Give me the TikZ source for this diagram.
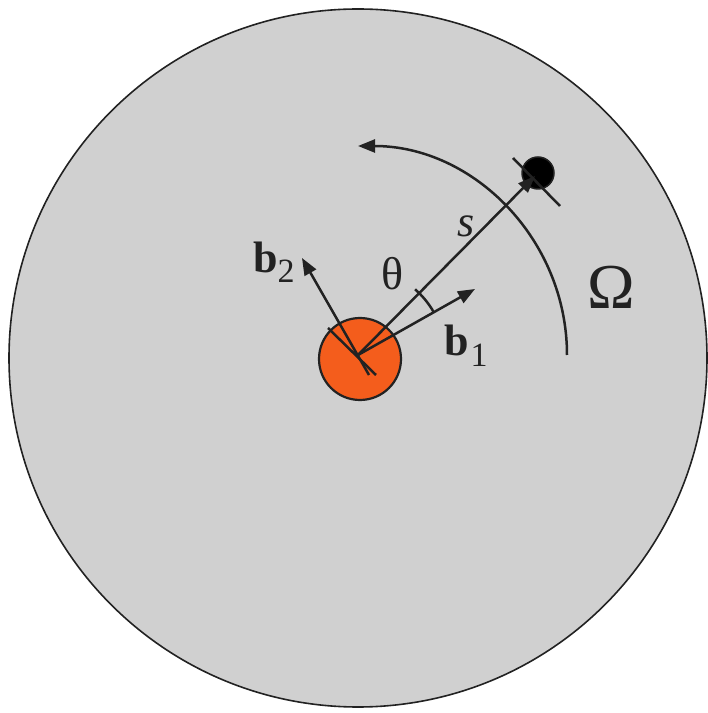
\documentclass[tikz,border=0pt]{standalone}
\usepackage{fontspec}
\setmainfont{Liberation Serif}
\usetikzlibrary{arrows.meta}
\definecolor{disk}{HTML}{D0D0D0}
\definecolor{src}{HTML}{F45D1C}
\definecolor{ink}{HTML}{222222}
\begin{document}
\begin{tikzpicture}[x=1pt,y=1pt,
  ln/.style={draw=ink,line width=2.5pt},
  arr/.style={ln,-{Triangle[length=17pt,width=13pt]}},
  lbl/.style={inner sep=0pt,text=ink}]
\useasboundingbox (0,0) rectangle (708,713);
\node[circle,draw=ink,line width=1.6pt,fill=disk,minimum size=698pt,inner sep=0pt] (domain) at (358,355) {};
\node[circle,draw=ink,line width=2.2pt,fill=src,minimum size=82pt,inner sep=0pt] (source) at (360,354) {};
\coordinate (O) at (358,358);
\node[circle,fill=black,draw=ink,line width=1.5pt,minimum size=32pt,inner sep=0pt] (dot) at (538,540) {};
% ticks
\coordinate (t1a) at (513,555); \coordinate (t1b) at (560,507);
\draw[ln] (t1a) -- (t1b);
\coordinate (t0a) at (328,385); \coordinate (t0b) at (376,338);
\draw[ln] (t0a) -- (t0b);
% vectors
\coordinate (b2back) at (369,338);
\coordinate (b2tip) at (302,455);
\coordinate (b1tip) at (475,424);
\coordinate (stip) at (535,537);
\draw[arr] (b2back) -- (b2tip);
\draw[arr] (O) -- (b1tip);
\draw[arr] (O) -- (stip);
% theta arc
\draw[ln] ([shift={(29.4:87)}]O) arc[start angle=29.4,end angle=49,radius=87];
% big arc
\draw[arr] ([shift={(0:209)}]O) arc[start angle=0,end angle=90,radius=209];
% labels
\node[lbl,font=\fontsize{44}{44}\selectfont\itshape] (slbl) at (466,487) {s};
\node[lbl,font=\fontsize{46}{46}\selectfont] (th) at (393,439) {θ};
\node[lbl,font=\fontsize{64}{64}\selectfont] (om) at (611,426) {Ω};
\node[lbl,font=\fontsize{44}{44}\selectfont\bfseries] (b1) at (457,373) {b};
\node[lbl,font=\fontsize{34}{34}\selectfont] (b1s) at (479,358) {1};
\node[lbl,font=\fontsize{44}{44}\selectfont\bfseries] (b2) at (266,456) {b};
\node[lbl,font=\fontsize{34}{34}\selectfont] (b2s) at (286,442) {2};
\end{tikzpicture}
\end{document}
